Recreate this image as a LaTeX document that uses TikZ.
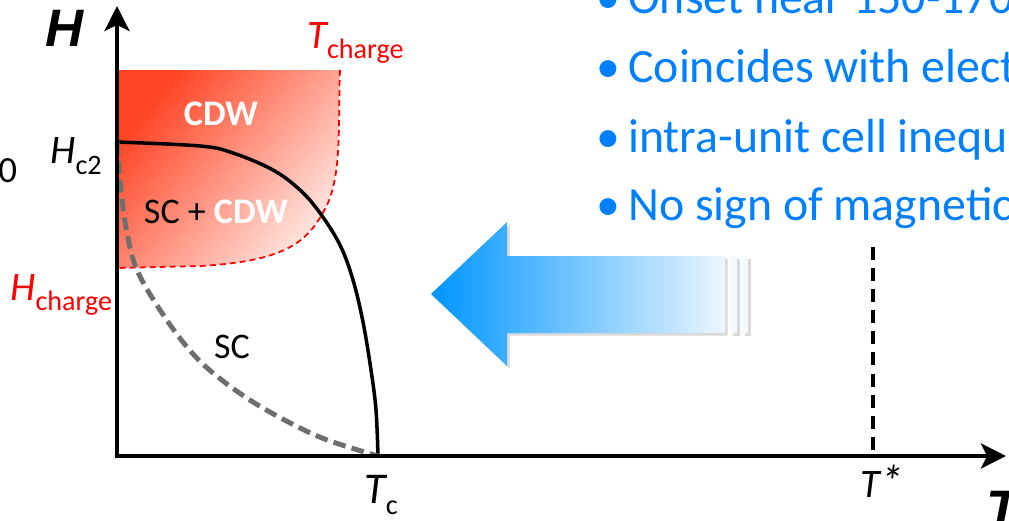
\documentclass[tikz,border=0pt]{standalone}
\usepackage{fontspec}
\setmainfont{Carlito}
\newfontfamily\axfont{Liberation Sans}
\usetikzlibrary{shadows,arrows.meta}
\definecolor{bulletblue}{RGB}{0,128,255}
\definecolor{cdwA}{RGB}{255,66,34}
\definecolor{cdwB}{RGB}{255,232,226}
\definecolor{arrA}{RGB}{0,150,255}
\definecolor{arrB}{RGB}{236,246,255}
\definecolor{dashgray}{RGB}{110,110,110}
\tikzset{
  lbl/.style={inner sep=0pt, anchor=base west},
  bullettext/.style={lbl, text=bulletblue, font=\fontsize{27.2}{32}\selectfont},
  phase/.style={inner sep=0pt, anchor=base, font=\fontsize{20.5}{23}\selectfont},
  axislabel/.style={lbl, font=\fontsize{30}{32}\selectfont\axfont\bfseries\itshape},
  axisline/.style={line width=2.3pt, line join=miter, {Stealth[length=0.5cm,width=0.5cm,inset=0.12cm]}-{Stealth[length=0.5cm,width=0.5cm,inset=0.12cm]}},
  hc2line/.style={line width=2pt},
  crossover/.style={line width=2.8pt, dashgray, dash pattern=on 7.2pt off 3.6pt},
  chargeline/.style={line width=1pt, red, dash pattern=on 3.4pt off 2.3pt},
  tstarline/.style={line width=2pt, dash pattern=on 7.4pt off 4.6pt},
  bigarrow/.style={left color=arrA, right color=arrB, draw=none,
     drop shadow={shadow xshift=1.5pt, shadow yshift=-1.5pt, opacity=0.3}},
  strip/.style={fill=arrB!60!white, draw=none,
     drop shadow={shadow xshift=1.5pt, shadow yshift=-1.5pt, opacity=0.3}},
}
\newcommand{\mysub}[2]{\raisebox{#1}{\fontsize{16}{18}\selectfont #2}}
\begin{document}
\begin{tikzpicture}[x=0.02cm,y=-0.02cm]
\useasboundingbox (0,0) rectangle (1009,521);
\clip (0,0) rectangle (1009,521);

% coordinates
\coordinate (O) at (117,456);
\coordinate (Htop) at (117,6);
\coordinate (Tend) at (1006,456);
\coordinate (Hc2) at (117,142);
\coordinate (Tc) at (378,456);
\coordinate (TsTop) at (873,247);
\coordinate (TsBot) at (873,456);

% CDW region
\path[shading=axis, top color=cdwA, bottom color=cdwB, shading angle=50]
  (117,70) -- (340,70)
  .. controls (338,120) and (342,170) .. (328,203)
  .. controls (310,240) and (290,261) .. (200,266)
  -- (117,268) -- cycle;
\draw[chargeline] (340,70)
  .. controls (338,120) and (342,170) .. (328,203)
  .. controls (310,240) and (290,261) .. (200,266)
  -- (117,268);

% Hc2 line
\draw[hc2line] plot[smooth, tension=0.6] coordinates {(Hc2) (200,146) (233,153) (273,170) (300,190) (320,213) (340,245) (353,280) (363,322) (371,370) (376,410) (Tc)};

% crossover dashed
\draw[crossover] plot[smooth, tension=0.6] coordinates {(Hc2) (121,190) (127,233) (137,270) (160,310) (187,347) (213,373) (253,402) (300,428) (333,442) (Tc)};

% T* line
\draw[tstarline] (TsTop) -- (TsBot);

% axes
\draw[axisline] (Htop) -- (O) -- (Tend);

% phase labels
\node[phase, text=white, font=\bfseries\fontsize{20.5}{23}\selectfont] (cdw) at (221,125) {CDW};
\node[phase] (sccdw) at (216,223) {SC + {\color{white}\bfseries CDW}};
\node[phase] (sc) at (232,358) {SC};

% axis annotations
\node[axislabel] (Hlab) at (45,46) {H};
\node[axislabel] (Tlab) at (986,527) {T};
\node[lbl, font=\fontsize{21}{24}\selectfont] (zero) at (-2,182) {0};
\node[lbl, font=\fontsize{23}{26}\selectfont] (hc2lab) at (50,163) {\itshape H\upshape\mysub{-6.8pt}{c2}};
\node[lbl, text=red, font=\fontsize{23}{26}\selectfont] (hchlab) at (10,300) {\itshape H\upshape\mysub{-5.7pt}{charge}};
\node[lbl, text=red, font=\fontsize{23}{26}\selectfont] (tchlab) at (307,48) {\itshape T\upshape\mysub{-5.7pt}{charge}};
\node[lbl, font=\fontsize{25}{28}\selectfont] (tclab) at (364,503) {\itshape T\upshape\mysub{-6.8pt}{c}};
\node[lbl, font=\fontsize{23}{26}\selectfont] (tslab) at (860,497) {\itshape T\kern0.5pt{\fontsize{26}{26}\selectfont *}};

% big arrow
\path[bigarrow] (431,294) -- (507,222) -- (507,256) -- (725,256) -- (725,333) -- (507,333) -- (507,366) -- cycle;
\path[strip] (730,256) rectangle (737,333);
\path[strip] (742,256) rectangle (748,333);

% bullet text
\foreach \yy/\txt/\nm in {13/Onset near 150-170/b1, 82/Coincides with elect/b2, 152/intra-unit cell inequ/b3, 220/No sign of magnetic/b4}{
  \node[bullettext] (dot\nm) at (596,\yy) {\textbullet};
  \node[bullettext] (\nm) at (628,\yy) {\txt};
}
\end{tikzpicture}
\end{document}
